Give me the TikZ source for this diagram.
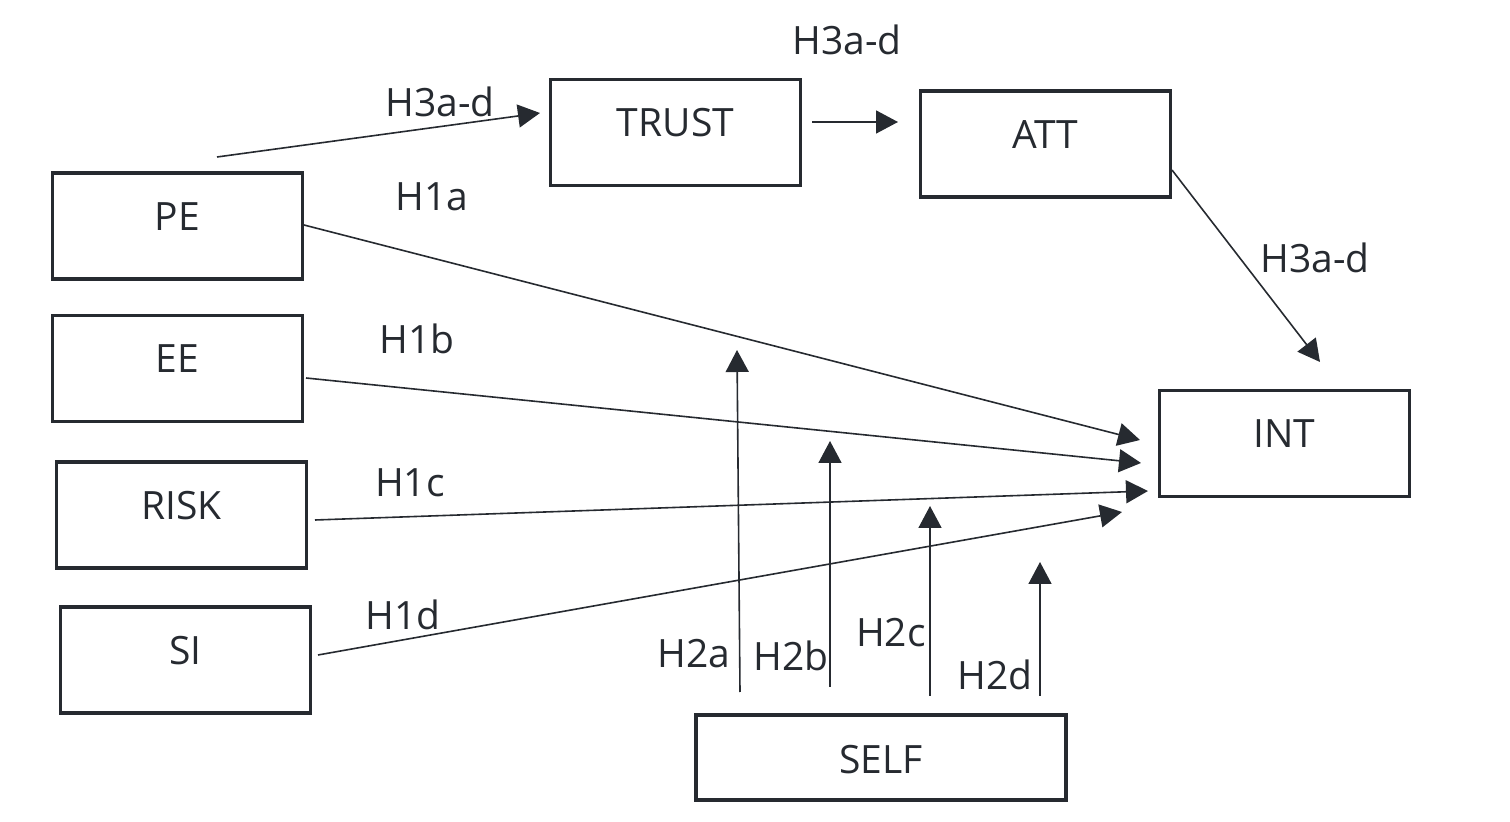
\documentclass[tikz,border=0pt]{standalone}
\usepackage{fontspec}
\setmainfont{Open Sans}
\usetikzlibrary{arrows.meta}
\definecolor{ink}{HTML}{262A30}
\tikzset{
  box/.style={draw=ink, line width=1.8pt, minimum width=125pt, minimum height=53pt, inner sep=0pt},
  tl/.style={text=ink, font=\fontsize{19.5}{22}\selectfont, yshift=4.8pt, inner sep=0pt},
  lbl/.style={text=ink, font=\fontsize{19.5}{22}\selectfont, inner sep=0pt},
  arr/.style={draw=ink, line width=0.8pt, -{Triangle[length=11pt,width=11.5pt]}}
}
\begin{document}
\begin{tikzpicture}[x=0.5pt,y=-0.5pt]
\useasboundingbox (0,0) rectangle (1510,822);
% boxes
\node[box, label={[tl]center:TRUST}] (TRUST) at (675.5,132.5) {};
\node[box, label={[tl]center:ATT}] (ATT) at (1045.5,144) {};
\node[box, label={[tl]center:PE}] (PE) at (177.5,226) {};
\node[box, label={[tl]center:EE}] (EE) at (177.5,368.5) {};
\node[box, label={[tl]center:RISK}] (RISK) at (181.5,515) {};
\node[box, label={[tl]center:SI}] (SI) at (185.5,660) {};
\node[box, label={[tl]center:INT}] (INT) at (1284.5,443.5) {};
\node[box, minimum width=185pt, minimum height=42.5pt, label={[tl,yshift=-5.6pt]center:SELF}] (SELF) at (881,757.5) {};
% connector end points
\coordinate (pe0) at (217,157);   \coordinate (pe1) at (540,113);
\coordinate (tr0) at (812,122);   \coordinate (tr1) at (898,122);
\coordinate (at0) at (1172,170);  \coordinate (at1) at (1320,362);
\coordinate (a0) at (304,225);    \coordinate (a1) at (1140,440);
\coordinate (b0) at (306,378);    \coordinate (b1) at (1141,463);
\coordinate (c0) at (315,520);    \coordinate (c1) at (1148,491);
\coordinate (d0) at (318,655);    \coordinate (d1) at (1122,512);
\coordinate (s10) at (740,692);   \coordinate (s11) at (737,350);
\coordinate (s20) at (830,687);   \coordinate (s21) at (830,441);
\coordinate (s30) at (930,696);   \coordinate (s31) at (930,506);
\coordinate (s40) at (1040,696);  \coordinate (s41) at (1040,562);
% connectors
\draw[arr] (pe0) -- (pe1);
\draw[arr] (tr0) -- (tr1);
\draw[arr] (at0) -- (at1);
\draw[arr] (a0) -- (a1);
\draw[arr] (b0) -- (b1);
\draw[arr] (c0) -- (c1);
\draw[arr] (d0) -- (d1);
\draw[arr] (s10) -- (s11);
\draw[arr] (s20) -- (s21);
\draw[arr] (s30) -- (s31);
\draw[arr] (s40) -- (s41);
% labels
\node[lbl] (l1) at (847,40) {H3a-d};
\node[lbl] (l2) at (440,102) {H3a-d};
\node[lbl] (l3) at (1315,258) {H3a-d};
\node[lbl] (l4) at (432,197) {H1a};
\node[lbl] (l5) at (417,339) {H1b};
\node[lbl] (l6) at (410,483) {H1c};
\node[lbl] (l7) at (403,615) {H1d};
\node[lbl] (l8) at (694,654) {H2a};
\node[lbl] (l9) at (791,656) {H2b};
\node[lbl] (l10) at (891,633) {H2c};
\node[lbl] (l11) at (995,675) {H2d};
\end{tikzpicture}
\end{document}
